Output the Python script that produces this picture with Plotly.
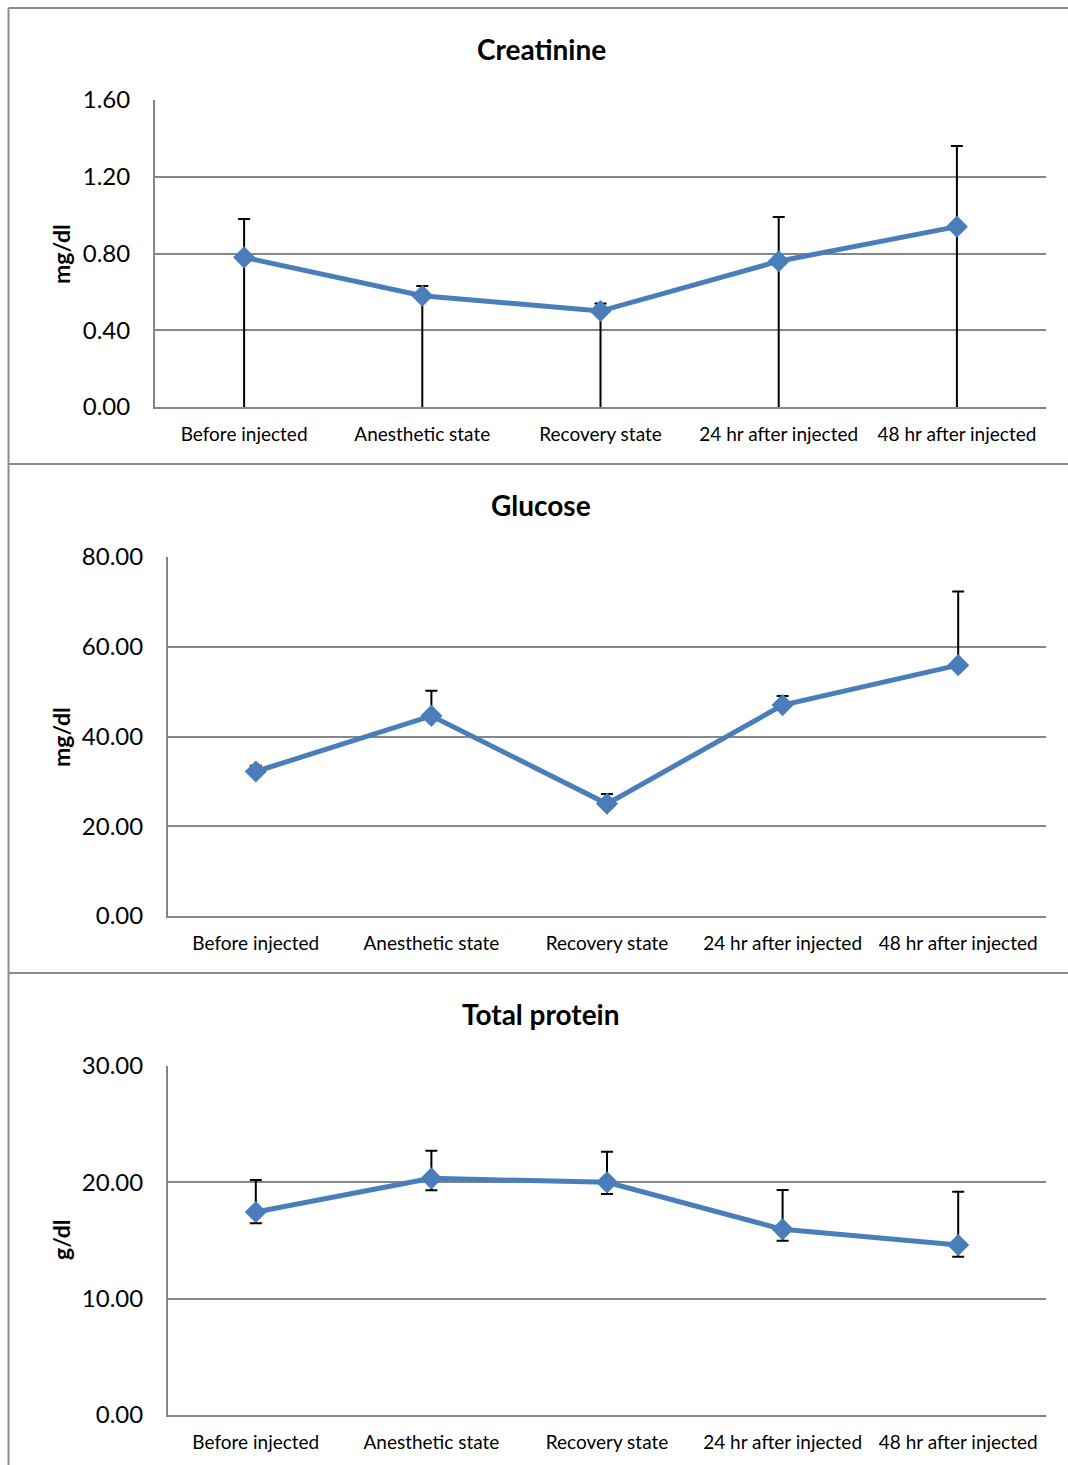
import plotly.graph_objects as go

# Sampling points shared by all three panels
categories = ["Before injected", "Anesthetic state", "Recovery state",
              "24 hr after injected", "48 hr after injected"]

# Creatinine (mg/dl): mean, upper SD, lower SD (lower bars run past the axis floor)
creatinine = [0.78, 0.58, 0.50, 0.76, 0.94]
creatinine_sd_plus = [0.20, 0.05, 0.04, 0.23, 0.42]
creatinine_sd_minus = [0.85, 0.65, 0.55, 0.85, 1.00]

# Glucose (mg/dl): mean and upper SD only
glucose = [32.2, 44.6, 25.0, 47.0, 55.9]
glucose_sd_plus = [1.3, 5.6, 2.2, 2.0, 16.4]
glucose_sd_minus = [0, 0, 0, 0, 0]

# Total protein (g/dl): mean, upper and lower SD
protein = [17.45, 20.34, 20.0, 15.96, 14.61]
protein_sd_plus = [2.75, 2.38, 2.63, 3.38, 4.59]
protein_sd_minus = [0.96, 1.02, 1.0, 0.98, 1.0]

W, H = 1068, 1465
FONT = "Lato"
LINE_BLUE = "#4a7ebb"
GRID = "#868686"


def px_x(p):
    return p / W


def px_y(p):
    return 1 - p / H


panels = [
    dict(title="Creatinine", unit="mg/dl", y=creatinine, plus=creatinine_sd_plus,
         minus=creatinine_sd_minus, rng=[0, 1.6], dtick=0.4,
         box=(155, 1046, 100, 407), title_y=49, unit_y=254),
    dict(title="Glucose", unit="mg/dl", y=glucose, plus=glucose_sd_plus,
         minus=glucose_sd_minus, rng=[0, 80], dtick=20,
         box=(168, 1046, 557, 916), title_y=505, unit_y=737),
    dict(title="Total protein", unit="g/dl", y=protein, plus=protein_sd_plus,
         minus=protein_sd_minus, rng=[0, 30], dtick=10,
         box=(168, 1046, 1066, 1415), title_y=1014, unit_y=1240),
]

fig = go.Figure()
annotations = []
layout_axes = {}

for i, p in enumerate(panels, start=1):
    xa = "x" if i == 1 else f"x{i}"
    ya = "y" if i == 1 else f"y{i}"
    x0, x1, y0, y1 = p["box"]

    fig.add_trace(go.Scatter(
        x=categories, y=p["y"], xaxis=xa, yaxis=ya,
        mode="lines+markers",
        line=dict(color=LINE_BLUE, width=5),
        marker=dict(symbol="diamond", size=17, color=LINE_BLUE),
        error_y=dict(type="data", symmetric=False, array=p["plus"],
                     arrayminus=p["minus"], color="black", thickness=2, width=6),
        showlegend=False,
    ))

    layout_axes[f"xaxis{'' if i == 1 else i}"] = dict(
        domain=[px_x(x0), px_x(x1)], anchor=ya, automargin=False,
        type="category", range=[-0.5, 4.5],
        showline=True, linecolor=GRID, linewidth=2,
        showgrid=False, zeroline=False, ticks="",
        ticklabelstandoff=9,
        tickfont=dict(family=FONT, size=19, color="black"),
    )
    layout_axes[f"yaxis{'' if i == 1 else i}"] = dict(
        domain=[px_y(y1), px_y(y0)], anchor=xa, automargin=False,
        range=p["rng"], dtick=p["dtick"], tickformat=".2f",
        showline=True, linecolor=GRID, linewidth=2,
        showgrid=True, gridcolor=GRID, gridwidth=2,
        zeroline=False, ticks="",
        ticklabelstandoff=18,
        tickfont=dict(family=FONT, size=24, color="black"),
    )

    annotations.append(dict(
        text=f"<b>{p['title']}</b>", x=px_x(541), y=px_y(p["title_y"]),
        xref="paper", yref="paper", xanchor="center", yanchor="middle",
        showarrow=False, font=dict(family=FONT, size=28, color="black"),
    ))
    annotations.append(dict(
        text=f"<b>{p['unit']}</b>", x=px_x(61), y=px_y(p["unit_y"]),
        xref="paper", yref="paper", xanchor="center", yanchor="middle",
        textangle=-90, showarrow=False,
        font=dict(family=FONT, size=23, color="black"),
    ))

# Chart-area frames around the stacked panels
frame = dict(type="line", xref="paper", yref="paper",
             line=dict(color="#8c8c8c", width=2))
shapes = [
    dict(frame, x0=px_x(8.5), x1=px_x(8.5), y0=px_y(8), y1=0),
    dict(frame, x0=px_x(8.5), x1=1, y0=px_y(8), y1=px_y(8)),
    dict(frame, x0=px_x(8.5), x1=1, y0=px_y(464), y1=px_y(464)),
    dict(frame, x0=px_x(8.5), x1=1, y0=px_y(973), y1=px_y(973)),
]

fig.update_layout(
    width=W, height=H, autosize=False,
    margin=dict(l=0, r=0, t=0, b=0, pad=0, autoexpand=False),
    paper_bgcolor="white", plot_bgcolor="white",
    font=dict(family=FONT, color="black"),
    annotations=annotations, shapes=shapes,
    **layout_axes,
)

fig.write_html("out.html")
